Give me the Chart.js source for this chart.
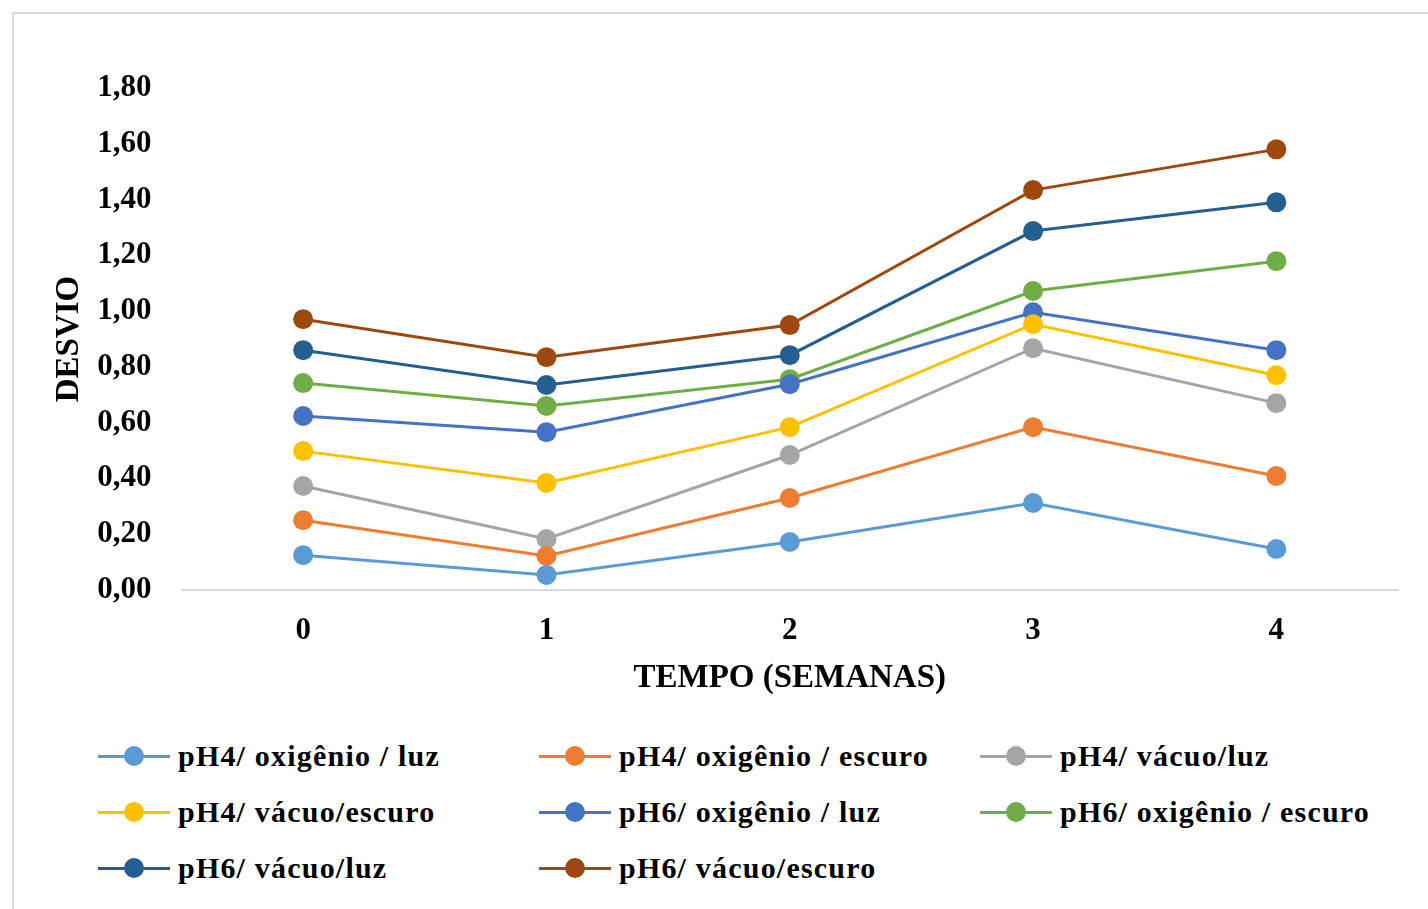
<!DOCTYPE html>
<html>
<head>
<meta charset="utf-8">
<script src="https://cdn.jsdelivr.net/npm/chart.js@4/dist/chart.umd.min.js"></script>
<style>
  body { margin: 0; background: #fff; width: 1428px; height: 909px; overflow: hidden; position: relative; }
  #moldura { position: absolute; left: 12px; top: 12px; width: 1430px; height: 920px; border-left: 2px solid #d9d9d9; border-top: 2px solid #d9d9d9; }
  #ecgChart { position: absolute; left: 0; top: 0; }
  #legenda { position: absolute; left: 98px; top: 736px; font-family: "Liberation Serif", "Times New Roman", serif; font-weight: bold; font-size: 30px; color: #000; }
  .item { position: absolute; white-space: nowrap; height: 40px; line-height: 40px; }
  .simbolo { position: absolute; left: 0; top: 19px; width: 72px; height: 3px; }
  .bola { position: absolute; left: 26px; top: -9px; width: 20px; height: 20px; border-radius: 50%; }
  .texto { position: absolute; left: 80px; top: 0; letter-spacing: 1.2px; }
</style>
</head>
<body>
<div id="moldura"></div>
<canvas id="ecgChart" width="1428" height="698"></canvas>
<div id="legenda"></div>
<script>
// dados
var semanas = ['0', '1', '2', '3', '4'];
var nomes = [
  'pH4/ oxigênio / luz', 'pH4/ oxigênio / escuro', 'pH4/ vácuo/luz',
  'pH4/ vácuo/escuro', 'pH6/ oxigênio / luz', 'pH6/ oxigênio / escuro',
  'pH6/ vácuo/luz', 'pH6/ vácuo/escuro'
];
var cores = ['#5B9BD5', '#ED7D31', '#A5A5A5', '#FFC000', '#4472C4', '#70AD47', '#255E91', '#9E480E'];

var ph4OxiLuz = [0.125, 0.054, 0.172, 0.312, 0.147];
var ph4OxiEscuro = [0.25, 0.122, 0.33, 0.584, 0.409];
var ph4VacuoLuz = [0.373, 0.183, 0.484, 0.867, 0.67];
var ph4VacuoEscuro = [0.498, 0.384, 0.584, 0.953, 0.77];
var ph6OxiLuz = [0.624, 0.566, 0.738, 0.996, 0.86];
var ph6OxiEscuro = [0.742, 0.66, 0.756, 1.072, 1.179];
var ph6VacuoLuz = [0.86, 0.735, 0.842, 1.287, 1.39];
var ph6VacuoEscuro = [0.971, 0.835, 0.95, 1.434, 1.58];

var series = [ph4OxiLuz, ph4OxiEscuro, ph4VacuoLuz, ph4VacuoEscuro,
              ph6OxiLuz, ph6OxiEscuro, ph6VacuoLuz, ph6VacuoEscuro];

var fonte = { family: 'Liberation Serif', weight: 'bold', size: 31 };
var fonteTitulo = { family: 'Liberation Serif', weight: 'bold', size: 33 };

var datasets = series.map(function (valores, i) {
  return {
    label: nomes[i],
    data: valores,
    borderColor: cores[i],
    backgroundColor: cores[i],
    borderWidth: 3,
    pointRadius: 10,
    pointHoverRadius: 10,
    pointBorderWidth: 0,
    fill: false,
    tension: 0
  };
});

var ctx = document.getElementById('ecgChart').getContext('2d');
var grafico = new Chart(ctx, {
  type: 'line',
  data: { labels: semanas, datasets: datasets },
  options: {
    responsive: false,
    animation: false,
    layout: { padding: { left: 50, top: 88, right: 30, bottom: 0 } },
    plugins: { legend: { display: false }, tooltip: { enabled: false } },
    scales: {
      x: {
        offset: true,
        grid: { display: true, drawOnChartArea: false, drawTicks: false },
        border: { display: true, color: '#d9d9d9', width: 2 },
        ticks: { color: '#000', font: fonte, padding: 22 },
        title: { display: true, text: 'TEMPO (SEMANAS)', color: '#000', font: fonteTitulo, padding: 0 },
        afterFit: function (escala) { escala.height = 108; }
      },
      y: {
        min: 0,
        max: 1.8,
        grid: { display: false },
        border: { display: false },
        ticks: {
          stepSize: 0.2,
          color: '#000',
          font: fonte,
          padding: 22,
          callback: function (v) { return v.toFixed(2).replace('.', ','); }
        },
        title: { display: true, text: 'DESVIO', color: '#000', font: fonteTitulo, padding: 0 },
        afterFit: function (escala) { escala.width = 131.5; }
      }
    }
  }
});

// legenda em 3 colunas
var legenda = document.getElementById('legenda');
nomes.forEach(function (nome, i) {
  var col = i % 3, lin = Math.floor(i / 3);
  var item = document.createElement('div');
  item.className = 'item';
  item.style.left = (col * 441) + 'px';
  item.style.top = (lin * 56) + 'px';
  item.innerHTML = '<div class="simbolo" style="background:' + cores[i] + '"><div class="bola" style="background:' + cores[i] + '"></div></div>' +
                   '<span class="texto">' + nome + '</span>';
  legenda.appendChild(item);
});
</script>
</body>
</html>
